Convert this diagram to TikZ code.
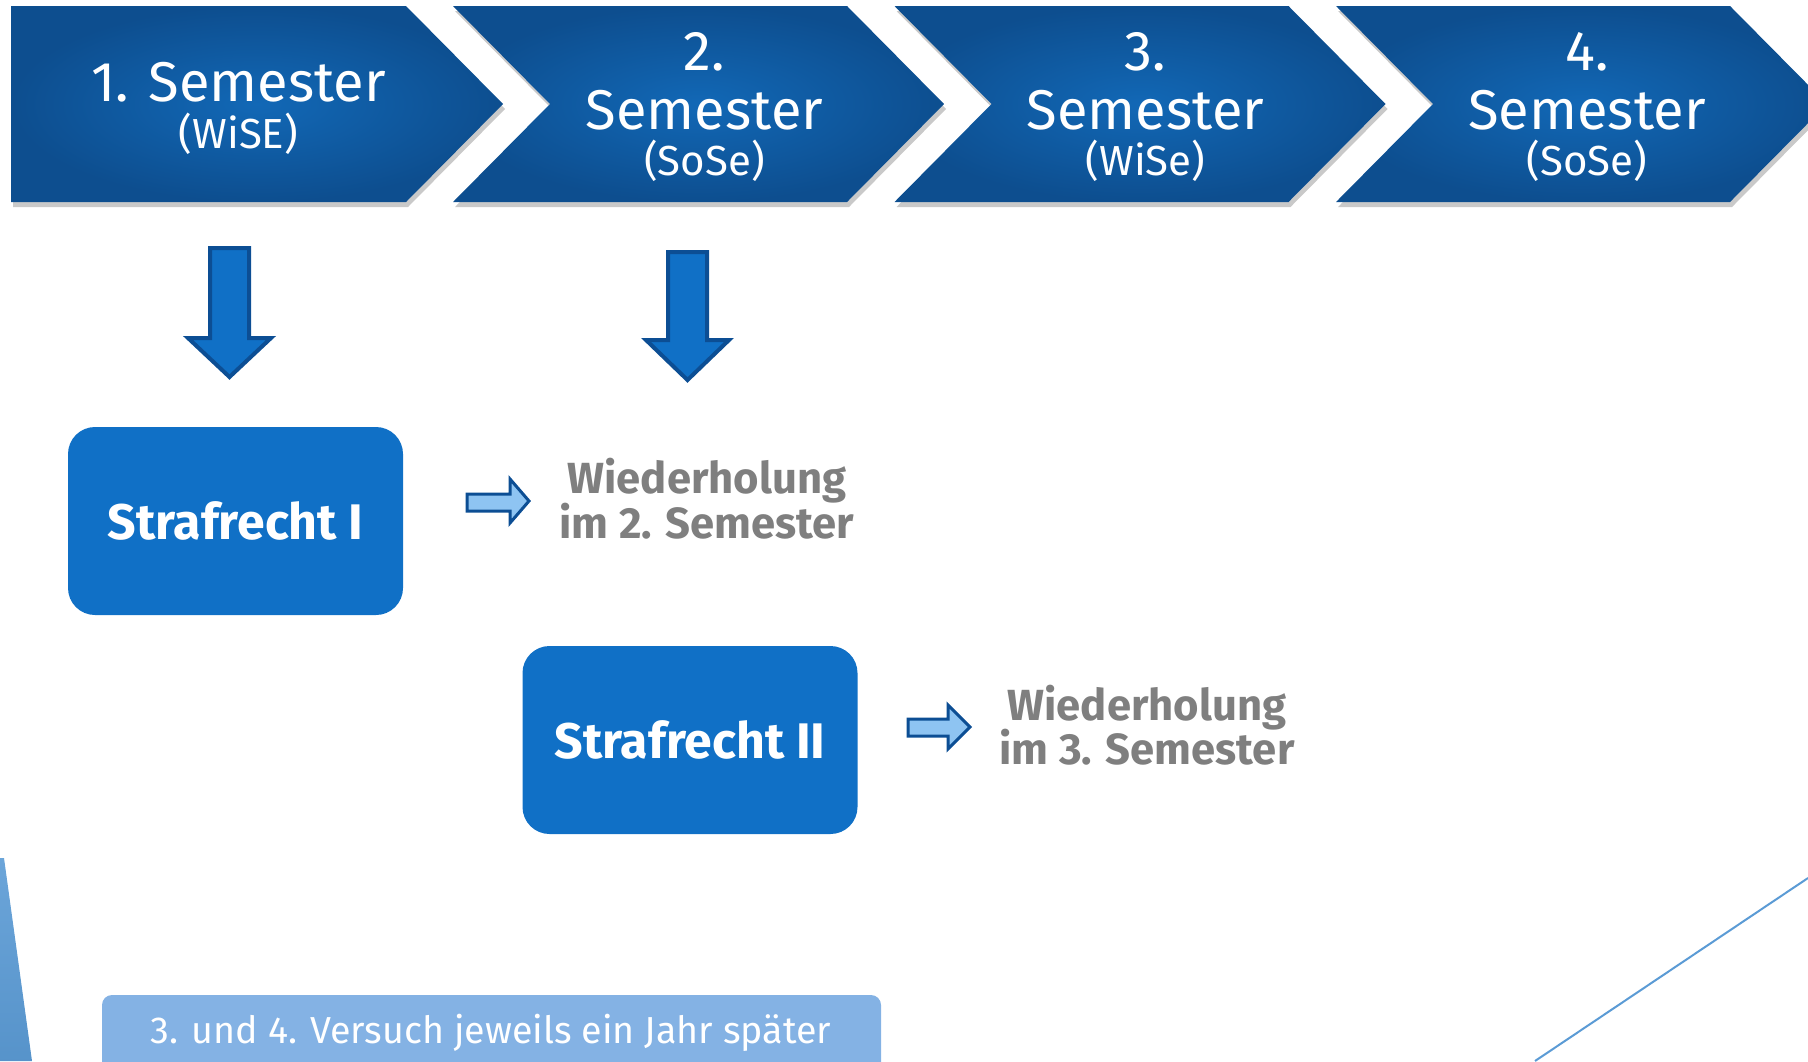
\documentclass[tikz,border=0pt]{standalone}
\usepackage{fontspec}
\setmainfont{Fira Sans}
\usetikzlibrary{shadows}
\definecolor{chevin}{RGB}{18,104,182}
\definecolor{chevout}{RGB}{13,78,143}
\definecolor{boxblue}{RGB}{16,112,198}
\definecolor{arrowedge}{RGB}{12,78,148}
\definecolor{lightarrow}{RGB}{142,196,242}
\definecolor{graytext}{RGB}{127,127,127}
\definecolor{bannerblue}{RGB}{132,178,228}
\definecolor{accent}{RGB}{91,155,213}
\tikzset{
  chevron/.style={inner color=chevin, outer color=chevout,
    drop shadow={shadow xshift=1pt, shadow yshift=-2.5pt, opacity=0.3, fill=black!70}},
  bigtxt/.style={text=white, anchor=base, inner sep=0pt, font=\fontsize{28}{32}\selectfont},
  smalltxt/.style={text=white, anchor=base, inner sep=0pt, font=\fontsize{21}{25}\selectfont},
  blockarrow/.style={fill=boxblue, draw=arrowedge, line width=2pt, line join=miter},
  thinarrow/.style={fill=lightarrow, draw=arrowedge, line width=1.5pt, line join=miter},
  modbox/.style={fill=boxblue, rounded corners=13.5pt, minimum width=167.5pt, minimum height=94pt,
    inner sep=0pt, text=white, font=\bfseries\fontsize{25}{30}\selectfont},
  repeattxt/.style={text=graytext, anchor=base, inner sep=0pt, font=\bfseries\fontsize{21.8}{26}\selectfont},
  notetxt/.style={text=white, anchor=base, inner sep=0pt, font=\fontsize{18.8}{23}\selectfont}
}
\begin{document}
\begin{tikzpicture}[x=0.5pt, y=-0.5pt]
\useasboundingbox (0,0) rectangle (1808,1061);
\clip (0,0) rectangle (1808,1061);

% chevrons
\shade[chevron] (11,6) -- (406,6) -- (503,104) -- (406,202) -- (11,202) -- cycle;
\foreach \L in {453,894.5,1336}{
  \shade[chevron] (\L,6) -- (\L+394,6) -- (\L+491,104) -- (\L+394,202) -- (\L,202) -- (\L+97,104) -- cycle;
}

% chevron texts
\node[bigtxt] (s1a) at (238.5,101) {1. Semester};
\node[smalltxt] (s1b) at (238.5,148) {(WiSE)};
\node[bigtxt] (s2a) at (704.5,70) {2.};
\node[bigtxt] (s2b) at (704.5,129) {Semester};
\node[smalltxt] (s2c) at (704.5,175) {(SoSe)};
\node[bigtxt] (s3a) at (1145.5,70) {3.};
\node[bigtxt] (s3b) at (1145.5,129) {Semester};
\node[smalltxt] (s3c) at (1145.5,175) {(WiSe)};
\node[bigtxt] (s4a) at (1587,70) {4.};
\node[bigtxt] (s4b) at (1587,129) {Semester};
\node[smalltxt] (s4c) at (1587,175) {(SoSe)};

% down arrows
\draw[blockarrow] (210,248) -- (249,248) -- (249,338) -- (271,338) -- (229.5,377) -- (188,338) -- (210,338) -- cycle;
\draw[blockarrow] (668,252) -- (707,252) -- (707,340) -- (729,340) -- (687.5,380) -- (646,340) -- (668,340) -- cycle;

% boxes
\node[modbox] (sr1) at (235.5,521) {Strafrecht I};
\node[modbox] (sr2) at (690,740) {Strafrecht II};

% small arrows
\draw[thinarrow] (467,494) -- (510,494) -- (510,479) -- (529,501) -- (510,523) -- (510,511) -- (467,511) -- cycle;
\draw[thinarrow] (908,719) -- (948,719) -- (948,705) -- (970,727) -- (948,749) -- (948,736) -- (908,736) -- cycle;

% repeat texts
\node[repeattxt] (w1a) at (707,493) {Wiederholung};
\node[repeattxt] (w1b) at (707,538) {im 2. Semester};
\node[repeattxt] (w2a) at (1147,720) {Wiederholung};
\node[repeattxt] (w2b) at (1147,764) {im 3. Semester};

% banner
\fill[bannerblue, rounded corners=5pt] (102,995) rectangle (881,1100);
\node[notetxt] (note) at (491,1043) {3. und 4. Versuch jeweils ein Jahr später};

% decorations
\shade[top color=accent!90!white, bottom color=accent!95!black] (0,858) -- (4,858) -- (32,1061) -- (0,1061) -- cycle;
\coordinate (l1) at (1535,1061);
\coordinate (l2) at (1808,878);
\draw[accent, line width=1pt] (l1) -- (l2);
\end{tikzpicture}
\end{document}
